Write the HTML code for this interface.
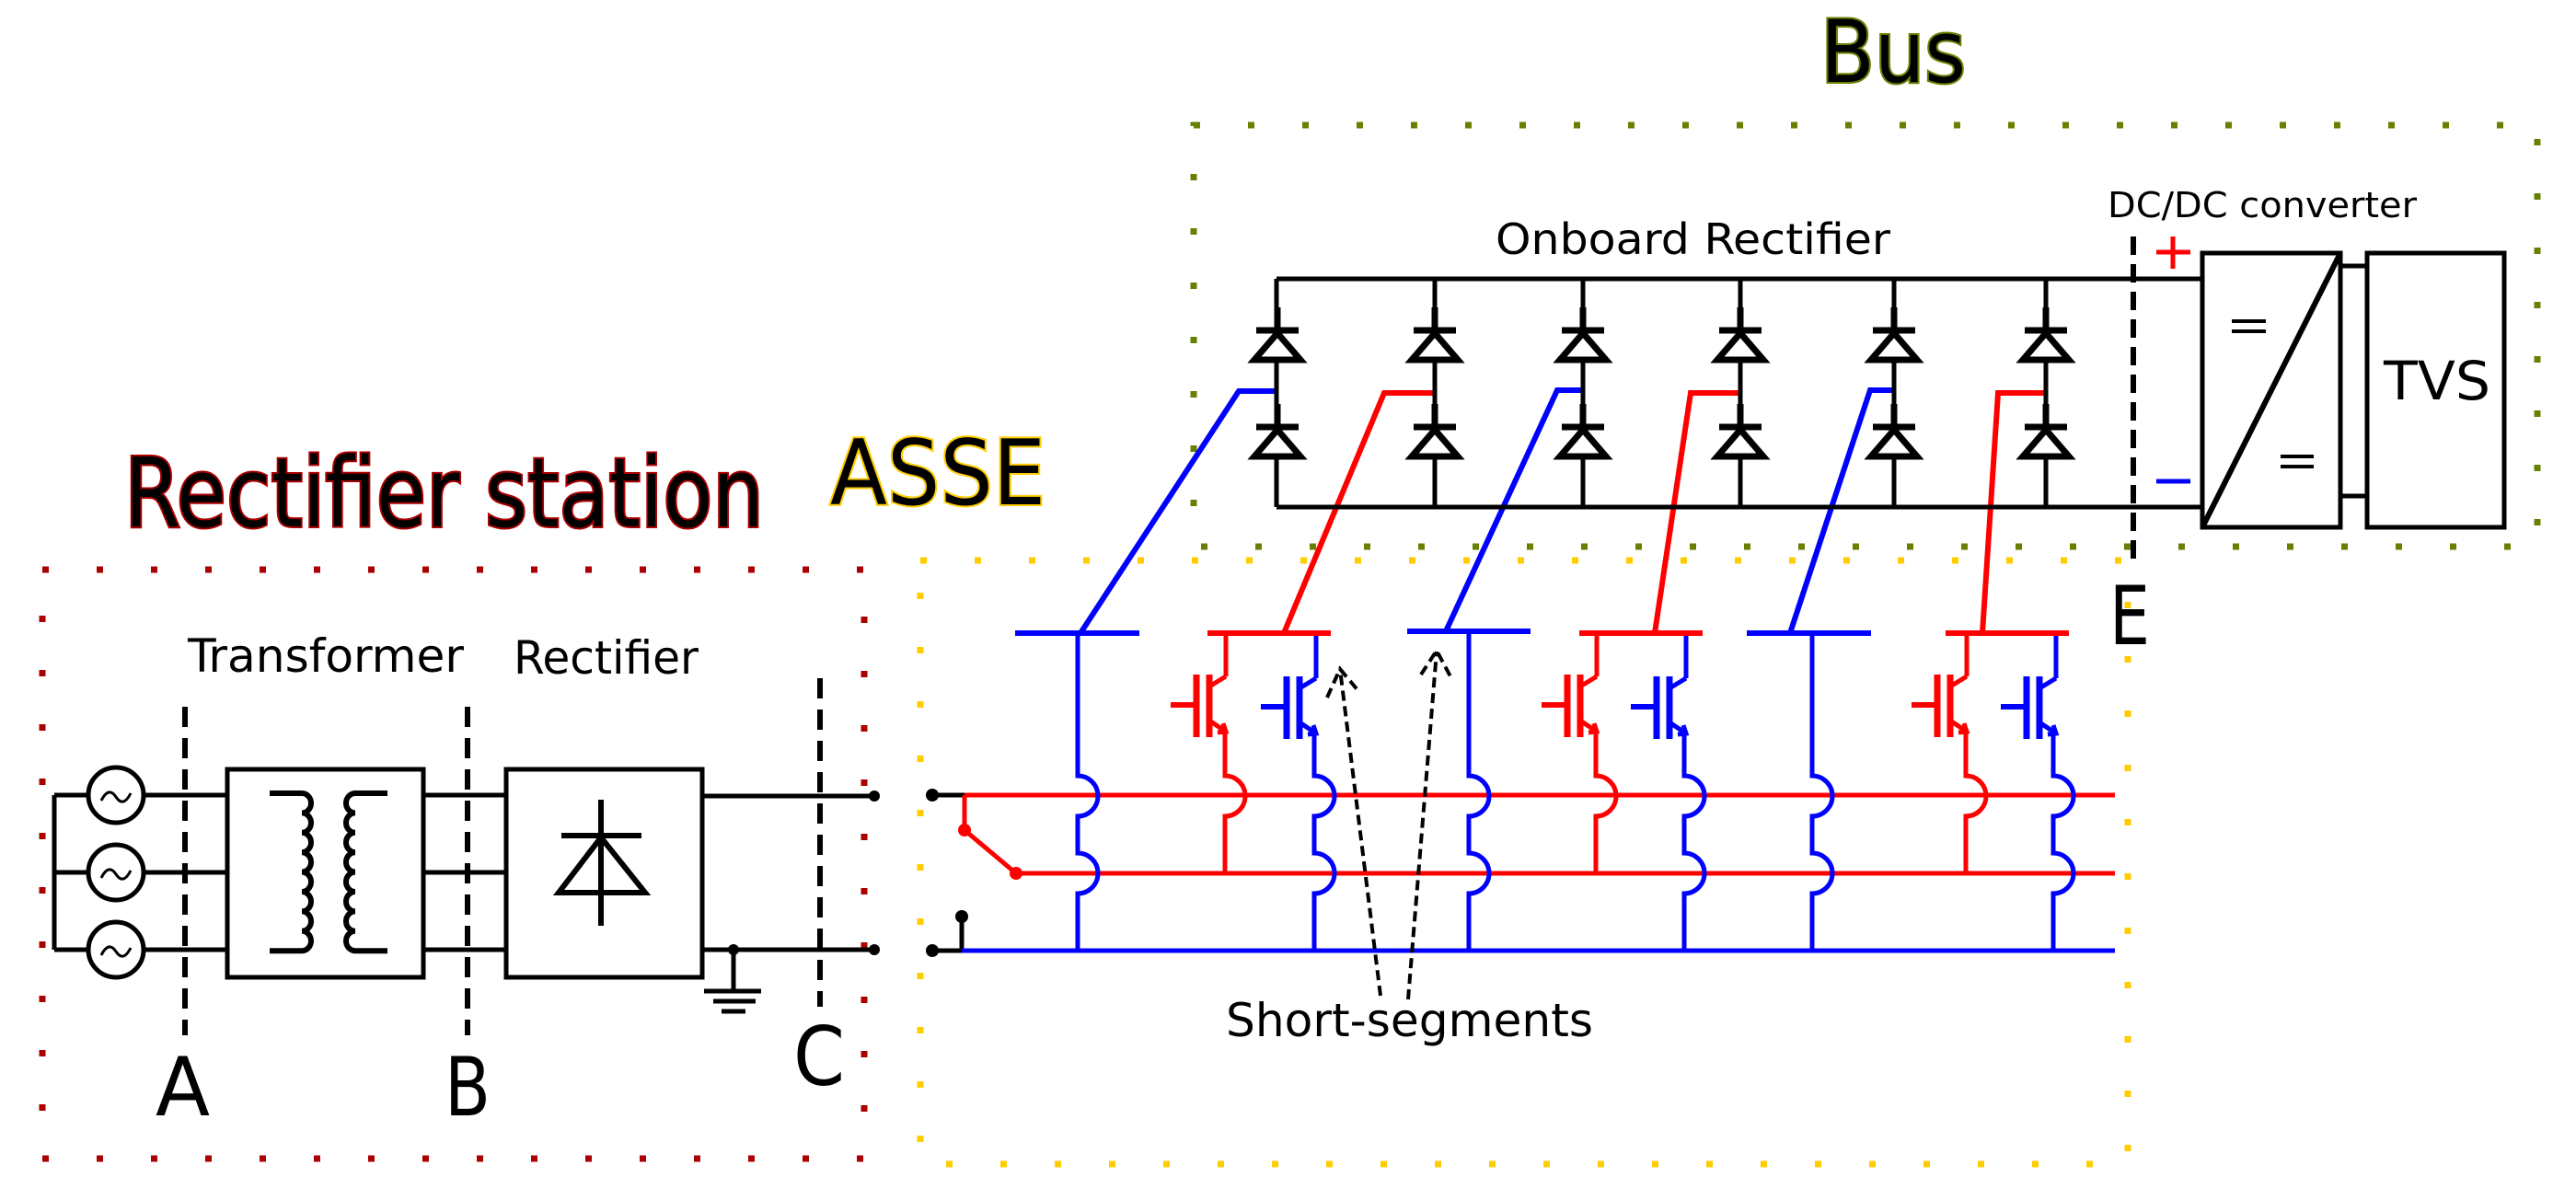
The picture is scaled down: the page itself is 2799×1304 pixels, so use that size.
<!DOCTYPE html>
<html><head><meta charset="utf-8"><style>
html,body{margin:0;padding:0;background:#fff;}
svg{display:block;}
text{font-family:"DejaVu Sans Condensed","DejaVu Sans","Liberation Sans",sans-serif;}
</style></head><body>
<svg width="2799" height="1304" viewBox="0 0 2799 1304" xmlns="http://www.w3.org/2000/svg">
<defs>
<g id="diode">
 <path d="M0 -25 V25" stroke="#000" stroke-width="7" fill="none"/>
 <path d="M-23 0 H23" stroke="#000" stroke-width="7"/>
 <path d="M0 3 L-25 32 H25 Z" stroke="#000" stroke-width="7" fill="#fff" stroke-linejoin="miter"/>
</g>
<g id="igbt" fill="none" stroke-width="5">
 <path d="M0 0 L-18 11"/>
 <path d="M-18 -2 V66" stroke-width="7"/>
 <path d="M-32 -2 V66" stroke-width="7"/>
 <path d="M-60 31 H-32" stroke-width="6"/>
 <path d="M-18 48 L0 60"/>
 <path d="M-9 61 L0 60 L-3 51"/>
</g>
</defs>

<g fill="none" stroke-width="7" stroke-linecap="butt">
 <rect x="46" y="619" width="893" height="640" stroke="#aa0000" stroke-dasharray="7 52"/>
 <rect x="1000" y="609" width="1312" height="656" stroke="#ffcc00" stroke-dasharray="7 52"/>
 <rect x="1297" y="136" width="1460" height="458" stroke="#668000" stroke-dasharray="7 52"/>
</g>

<text x="135" y="572" font-size="104" textLength="695" lengthAdjust="spacingAndGlyphs" fill="#000" stroke="#aa0000" stroke-width="4" paint-order="stroke">Rectifier station</text>
<text x="902" y="548" font-size="98" textLength="234" lengthAdjust="spacingAndGlyphs" fill="#000" stroke="#ffcc00" stroke-width="4" paint-order="stroke">ASSE</text>
<text x="1978" y="89" font-size="94" textLength="158" lengthAdjust="spacingAndGlyphs" fill="#000" stroke="#668000" stroke-width="4" paint-order="stroke">Bus</text>

<text x="204" y="730" font-size="50" textLength="300" lengthAdjust="spacingAndGlyphs">Transformer</text>
<text x="558" y="732" font-size="50" textLength="201" lengthAdjust="spacingAndGlyphs">Rectifier</text>
<text x="1625" y="276" font-size="46" textLength="429" lengthAdjust="spacingAndGlyphs">Onboard Rectifier</text>
<text x="2290" y="236" font-size="38" textLength="336" lengthAdjust="spacingAndGlyphs">DC/DC converter</text>
<text x="1332" y="1126" font-size="50" textLength="399" lengthAdjust="spacingAndGlyphs">Short-segments</text>
<text x="2590" y="434" font-size="58" textLength="116" lengthAdjust="spacingAndGlyphs">TVS</text>
<text x="169" y="1212" font-size="88" textLength="59" lengthAdjust="spacingAndGlyphs">A</text>
<text x="483" y="1212" font-size="88" textLength="50" lengthAdjust="spacingAndGlyphs">B</text>
<text x="862" y="1179" font-size="88" textLength="56" lengthAdjust="spacingAndGlyphs">C</text>
<text x="2292" y="700" font-size="88" textLength="44" lengthAdjust="spacingAndGlyphs">E</text>

<g stroke="#000" stroke-width="5" fill="none">
 <path d="M59 864 V1032 M59 864 H96 M59 948 H96 M59 1032 H96"/>
 <circle cx="126" cy="864" r="30"/><circle cx="126" cy="948" r="30"/><circle cx="126" cy="1032" r="30"/>
 <path d="M110 870 q8 -16 16 -4 t16 -4 M110 954 q8 -16 16 -4 t16 -4 M110 1038 q8 -16 16 -4 t16 -4" stroke-width="3"/>
 <path d="M156 864 H247 M156 948 H247 M156 1032 H247"/>
 <rect x="247" y="836" width="213" height="226"/>
 <path d="M293 862 H328 a10 10.7 0 0 1 0 21.4 a10 10.7 0 0 1 0 21.4 a10 10.7 0 0 1 0 21.4 a10 10.7 0 0 1 0 21.4 a10 10.7 0 0 1 0 21.4 a10 10.7 0 0 1 0 21.4 a10 10.7 0 0 1 0 21.4 a10 10.7 0 0 1 0 21.4 H293" stroke-width="6"/>
 <path d="M421 862 H386 a10 10.7 0 0 0 0 21.4 a10 10.7 0 0 0 0 21.4 a10 10.7 0 0 0 0 21.4 a10 10.7 0 0 0 0 21.4 a10 10.7 0 0 0 0 21.4 a10 10.7 0 0 0 0 21.4 a10 10.7 0 0 0 0 21.4 a10 10.7 0 0 0 0 21.4 H421" stroke-width="6"/>
 <path d="M460 864 H550 M460 948 H550 M460 1032 H550"/>
 <rect x="550" y="836" width="213" height="226"/>
 <path d="M653 869 V1006 M610 908 H697" stroke-width="6"/>
 <path d="M653 910 L607 970 H701 Z" stroke-width="6"/>
 <path d="M763 865 H950 M763 1032 H950"/>
 <path d="M797 1032 V1077 M765 1077 H827 M775 1088 H821 M784 1099 H810"/>
 <path d="M201 768 V1125 M508 768 V1125 M891 737 V1094" stroke-width="6" stroke-dasharray="22 12"/>
</g>
<g fill="#000">
 <circle cx="950" cy="865" r="6"/><circle cx="950" cy="1032" r="6"/><circle cx="797" cy="1032" r="6"/>
 <circle cx="1013" cy="864" r="7"/><circle cx="1013" cy="1033" r="7"/><circle cx="1045" cy="996" r="7"/>
</g>

<g fill="none" stroke-width="5">
 <path d="M1013 864 H1048 M1013 1033 H1045 M1045 996 V1033" stroke="#000"/>
 <path d="M1048 864 H2298 M1048 864 V902 L1104 949 H2298" stroke="#f00"/>
 <path d="M1045 1033 H2298" stroke="#00f"/>
</g>
<circle cx="1048" cy="902" r="7" fill="#f00"/><circle cx="1104" cy="949" r="7" fill="#f00"/>

<g fill="none" stroke="#00f" stroke-width="5">
 <path d="M1171 688 V843 A22 22 0 0 1 1171 887 V927 A22 22 0 0 1 1171 971 V1033"/>
 <path d="M1596 686 V843 A22 22 0 0 1 1596 887 V927 A22 22 0 0 1 1596 971 V1033"/>
 <path d="M1969 688 V843 A22 22 0 0 1 1969 887 V927 A22 22 0 0 1 1969 971 V1033"/>
 <path d="M1430 688 V737 M1428 797 V843 A22 22 0 0 1 1428 887 V927 A22 22 0 0 1 1428 971 V1033"/>
 <path d="M1832 688 V737 M1830 797 V843 A22 22 0 0 1 1830 887 V927 A22 22 0 0 1 1830 971 V1033"/>
 <path d="M2234 688 V737 M2231 797 V843 A22 22 0 0 1 2231 887 V927 A22 22 0 0 1 2231 971 V1033"/>
</g>
<g stroke="#00f"><use href="#igbt" x="1430" y="737"/><use href="#igbt" x="1832" y="737"/><use href="#igbt" x="2234" y="737"/></g>
<g fill="none" stroke="#f00" stroke-width="5">
 <path d="M1332 688 V735 M1331 795 V843 A22 22 0 0 1 1331 887 V949"/>
 <path d="M1735 688 V735 M1734 795 V843 A22 22 0 0 1 1734 887 V949"/>
 <path d="M2137 688 V735 M2136 795 V843 A22 22 0 0 1 2136 887 V949"/>
</g>
<g stroke="#f00"><use href="#igbt" x="1332" y="735"/><use href="#igbt" x="1735" y="735"/><use href="#igbt" x="2137" y="735"/></g>

<g fill="none" stroke-width="6">
 <path d="M1103 688 H1238 M1529 686 H1663 M1898 688 H2033" stroke="#00f"/>
 <path d="M1312 688 H1446 M1716 688 H1850 M2114 688 H2248" stroke="#f00"/>
 <path d="M1387 425 H1346 L1174 688 M1720 424 H1692 L1571 686 M2058 424 H2032 L1945 688" stroke="#00f"/>
 <path d="M1559 427 H1504 L1395 688 M1892 427 H1837 L1798 688 M2223 427 H2171 L2154 688" stroke="#f00"/>
</g>

<g fill="none" stroke="#000" stroke-width="5">
 <path d="M1387 303 H2393 M1387 551 H2393 M1387 303 V551 M1559 303 V551 M1720 303 V551 M1891 303 V551 M2058 303 V551 M2223 303 V551"/>
</g>
<g>
 <use href="#diode" x="1388" y="359"/><use href="#diode" x="1388" y="464"/>
 <use href="#diode" x="1559" y="359"/><use href="#diode" x="1559" y="464"/>
 <use href="#diode" x="1720" y="359"/><use href="#diode" x="1720" y="464"/>
 <use href="#diode" x="1891" y="359"/><use href="#diode" x="1891" y="464"/>
 <use href="#diode" x="2058" y="359"/><use href="#diode" x="2058" y="464"/>
 <use href="#diode" x="2223" y="359"/><use href="#diode" x="2223" y="464"/>
</g>

<path d="M2318 257 V613" stroke="#000" stroke-width="6" stroke-dasharray="20 10" fill="none"/>
<path d="M2343 274 H2380 M2361 257 V292" stroke="#f00" stroke-width="5"/>
<path d="M2343 523 H2380" stroke="#00f" stroke-width="5"/>
<g fill="none" stroke="#000" stroke-width="5">
 <rect x="2393" y="275" width="150" height="298"/>
 <path d="M2393 573 L2543 275" stroke-width="6"/>
 <path d="M2425 349 H2462 M2425 360 H2462 M2478 496 H2514 M2478 507 H2514" stroke-width="4"/>
 <path d="M2543 289 H2572 M2543 539 H2572"/>
 <rect x="2572" y="275" width="149" height="298"/>
</g>

<g fill="none" stroke="#000" stroke-width="4" stroke-dasharray="11 6">
 <path d="M1500 1082 L1456 727"/>
 <path d="M1442 758 L1456 727 L1477 752"/>
 <path d="M1530 1086 L1561 708"/>
 <path d="M1544 733 L1561 707 L1576 735"/>
</g>
</svg>
</body></html>
